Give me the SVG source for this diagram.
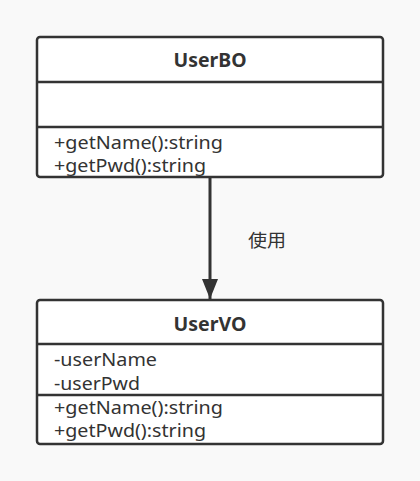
<svg xmlns="http://www.w3.org/2000/svg" width="420" height="481" viewBox="0 0 420 481">
<style>
.box{fill:#fff;stroke:#333;stroke-width:2.5}
.sep{stroke:#333;stroke-width:2.5}
.t{font-family:"Noto Sans","Noto Sans CJK SC",sans-serif;font-size:18px;fill:#333}
.h{font-family:"Noto Sans","Noto Sans CJK SC",sans-serif;font-size:19px;font-weight:bold;fill:#333;text-anchor:middle}
.c{font-family:"Noto Sans CJK SC",sans-serif;font-size:18px;fill:#333}
</style>
<defs>
<marker id="arr" markerWidth="20" markerHeight="16" refX="20" refY="8" orient="auto" markerUnits="userSpaceOnUse" viewBox="0 0 20 16"><path d="M0,0 L20,8 L0,16 Z" fill="#333"/></marker>
</defs>
<rect width="420" height="481" fill="#f9f9f9"/>
<g id="connectors">
<line x1="210" y1="177" x2="210" y2="299" stroke="#333" stroke-width="3" marker-end="url(#arr)"/>
<text class="c" x="248" y="247" textLength="38" lengthAdjust="spacingAndGlyphs">使用</text>
</g>
<g id="UserBO">
<rect class="box" x="37" y="37" width="346" height="140" rx="3"/>
<line class="sep" x1="37" y1="82" x2="383" y2="82"/>
<line class="sep" x1="37" y1="127" x2="383" y2="127"/>
<text class="h" x="210" y="67" textLength="73" lengthAdjust="spacingAndGlyphs">UserBO</text>
<text class="t" x="54" y="149" textLength="169" lengthAdjust="spacingAndGlyphs">+getName():string</text>
<text class="t" x="54" y="172" textLength="152" lengthAdjust="spacingAndGlyphs">+getPwd():string</text>
</g>
<g id="UserVO">
<rect class="box" x="37" y="300" width="346" height="144" rx="3"/>
<line class="sep" x1="37" y1="344" x2="383" y2="344"/>
<line class="sep" x1="37" y1="395" x2="383" y2="395"/>
<text class="h" x="210" y="331" textLength="73" lengthAdjust="spacingAndGlyphs">UserVO</text>
<text class="t" x="54" y="366" textLength="103" lengthAdjust="spacingAndGlyphs">-userName</text>
<text class="t" x="54" y="390" textLength="86" lengthAdjust="spacingAndGlyphs">-userPwd</text>
<text class="t" x="54" y="414" textLength="169" lengthAdjust="spacingAndGlyphs">+getName():string</text>
<text class="t" x="54" y="437" textLength="152" lengthAdjust="spacingAndGlyphs">+getPwd():string</text>
</g>
</svg>
